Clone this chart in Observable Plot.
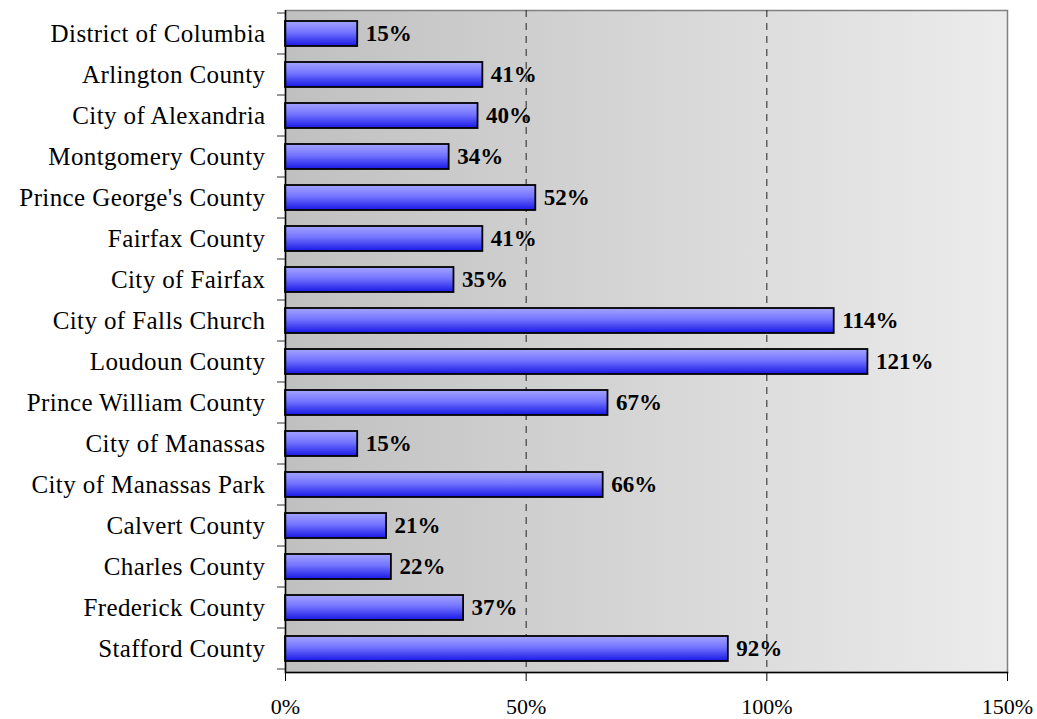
<!DOCTYPE html>
<html><head><meta charset="utf-8">
<script src="https://cdn.jsdelivr.net/npm/d3@7"></script>
<script src="https://cdn.jsdelivr.net/npm/@observablehq/plot@0.6"></script>
<style>body{margin:0;background:#fff;} svg{display:block;} g[aria-label="y-axis tick label"] text{letter-spacing:0.4px;}</style>
</head><body><div id="chart"></div>
<script>
const categories = [
  "District of Columbia", "Arlington County", "City of Alexandria", "Montgomery County",
  "Prince George's County", "Fairfax County", "City of Fairfax", "City of Falls Church",
  "Loudoun County", "Prince William County", "City of Manassas", "City of Manassas Park",
  "Calvert County", "Charles County", "Frederick County", "Stafford County"
];
const values = [15, 41, 40, 34, 52, 41, 35, 114, 121, 67, 15, 66, 21, 22, 37, 92];
const xTicks = [0, 50, 100, 150];
const gridValues = [50, 100];

const data = categories.map((c, i) => ({name: c, value: values[i]}));

const defs = () => {
  const g = d3.create("svg:defs");
  const bg = g.append("linearGradient").attr("id", "bgGrad")
    .attr("x1", 0).attr("x2", 1).attr("y1", 0).attr("y2", 0);
  bg.append("stop").attr("offset", "0%").attr("stop-color", "#c0c0c0");
  bg.append("stop").attr("offset", "100%").attr("stop-color", "#ececec");
  const bar = g.append("linearGradient").attr("id", "barGrad")
    .attr("x1", 0).attr("x2", 0).attr("y1", 0).attr("y2", 1);
  bar.append("stop").attr("offset", "0%").attr("stop-color", "#a4a4ff");
  bar.append("stop").attr("offset", "45%").attr("stop-color", "#7474ff");
  bar.append("stop").attr("offset", "100%").attr("stop-color", "#1818e6");
  return g.node();
};

const bandTicks = (index, scales, vals, dims) => {
  const y = scales.y;
  const bw = y.bandwidth ? y.bandwidth() : scales.scales.y.bandwidth;
  const bounds = categories.map(c => y(c)).concat([y(categories[categories.length - 1]) + bw]);
  const g = d3.create("svg:g");
  g.selectAll("line").data(bounds).join("line")
    .attr("x1", dims.marginLeft - 8).attr("x2", dims.marginLeft)
    .attr("y1", d => d).attr("y2", d => d)
    .attr("stroke", "#333").attr("stroke-width", 1);
  return g.node();
};

const chart = Plot.plot({
  width: 1037,
  height: 719,
  marginLeft: 285,
  marginRight: 30,
  marginTop: 10,
  marginBottom: 47,
  style: {fontFamily: "'Liberation Serif', 'Times New Roman', serif", color: "#000", background: "#fff"},
  x: {domain: [0, 150]},
  y: {domain: categories, padding: 0},
  marks: [
    defs,
    Plot.frame({fill: "url(#bgGrad)"}),
    Plot.frame({stroke: "#808080", strokeWidth: 1.5}),
    Plot.ruleX(gridValues, {stroke: "#222", strokeWidth: 1, strokeDasharray: "7,6"}),
    Plot.barX(data, {x: "value", y: "name", fill: "url(#barGrad)", stroke: "#000", strokeWidth: 1.8, insetTop: 8, insetBottom: 8}),
    Plot.text(data, {x: "value", y: "name", text: d => d.value + "%", dx: 8, textAnchor: "start",
      fontWeight: "bold", fontSize: 23, fill: "#000"}),
    Plot.ruleX([0], {stroke: "#000", strokeWidth: 1.5}),
    Plot.frame({anchor: "bottom", stroke: "#000", strokeWidth: 1.5}),
    bandTicks,
    Plot.axisY({tickSize: 0, tickPadding: 20, fontSize: 25, label: null}),
    Plot.axisX({ticks: xTicks, tickFormat: d => d + "%", tickSize: 9, tickPadding: 17, fontSize: 22, label: null})
  ]
});
document.getElementById("chart").appendChild(chart);
</script>
</body></html>
